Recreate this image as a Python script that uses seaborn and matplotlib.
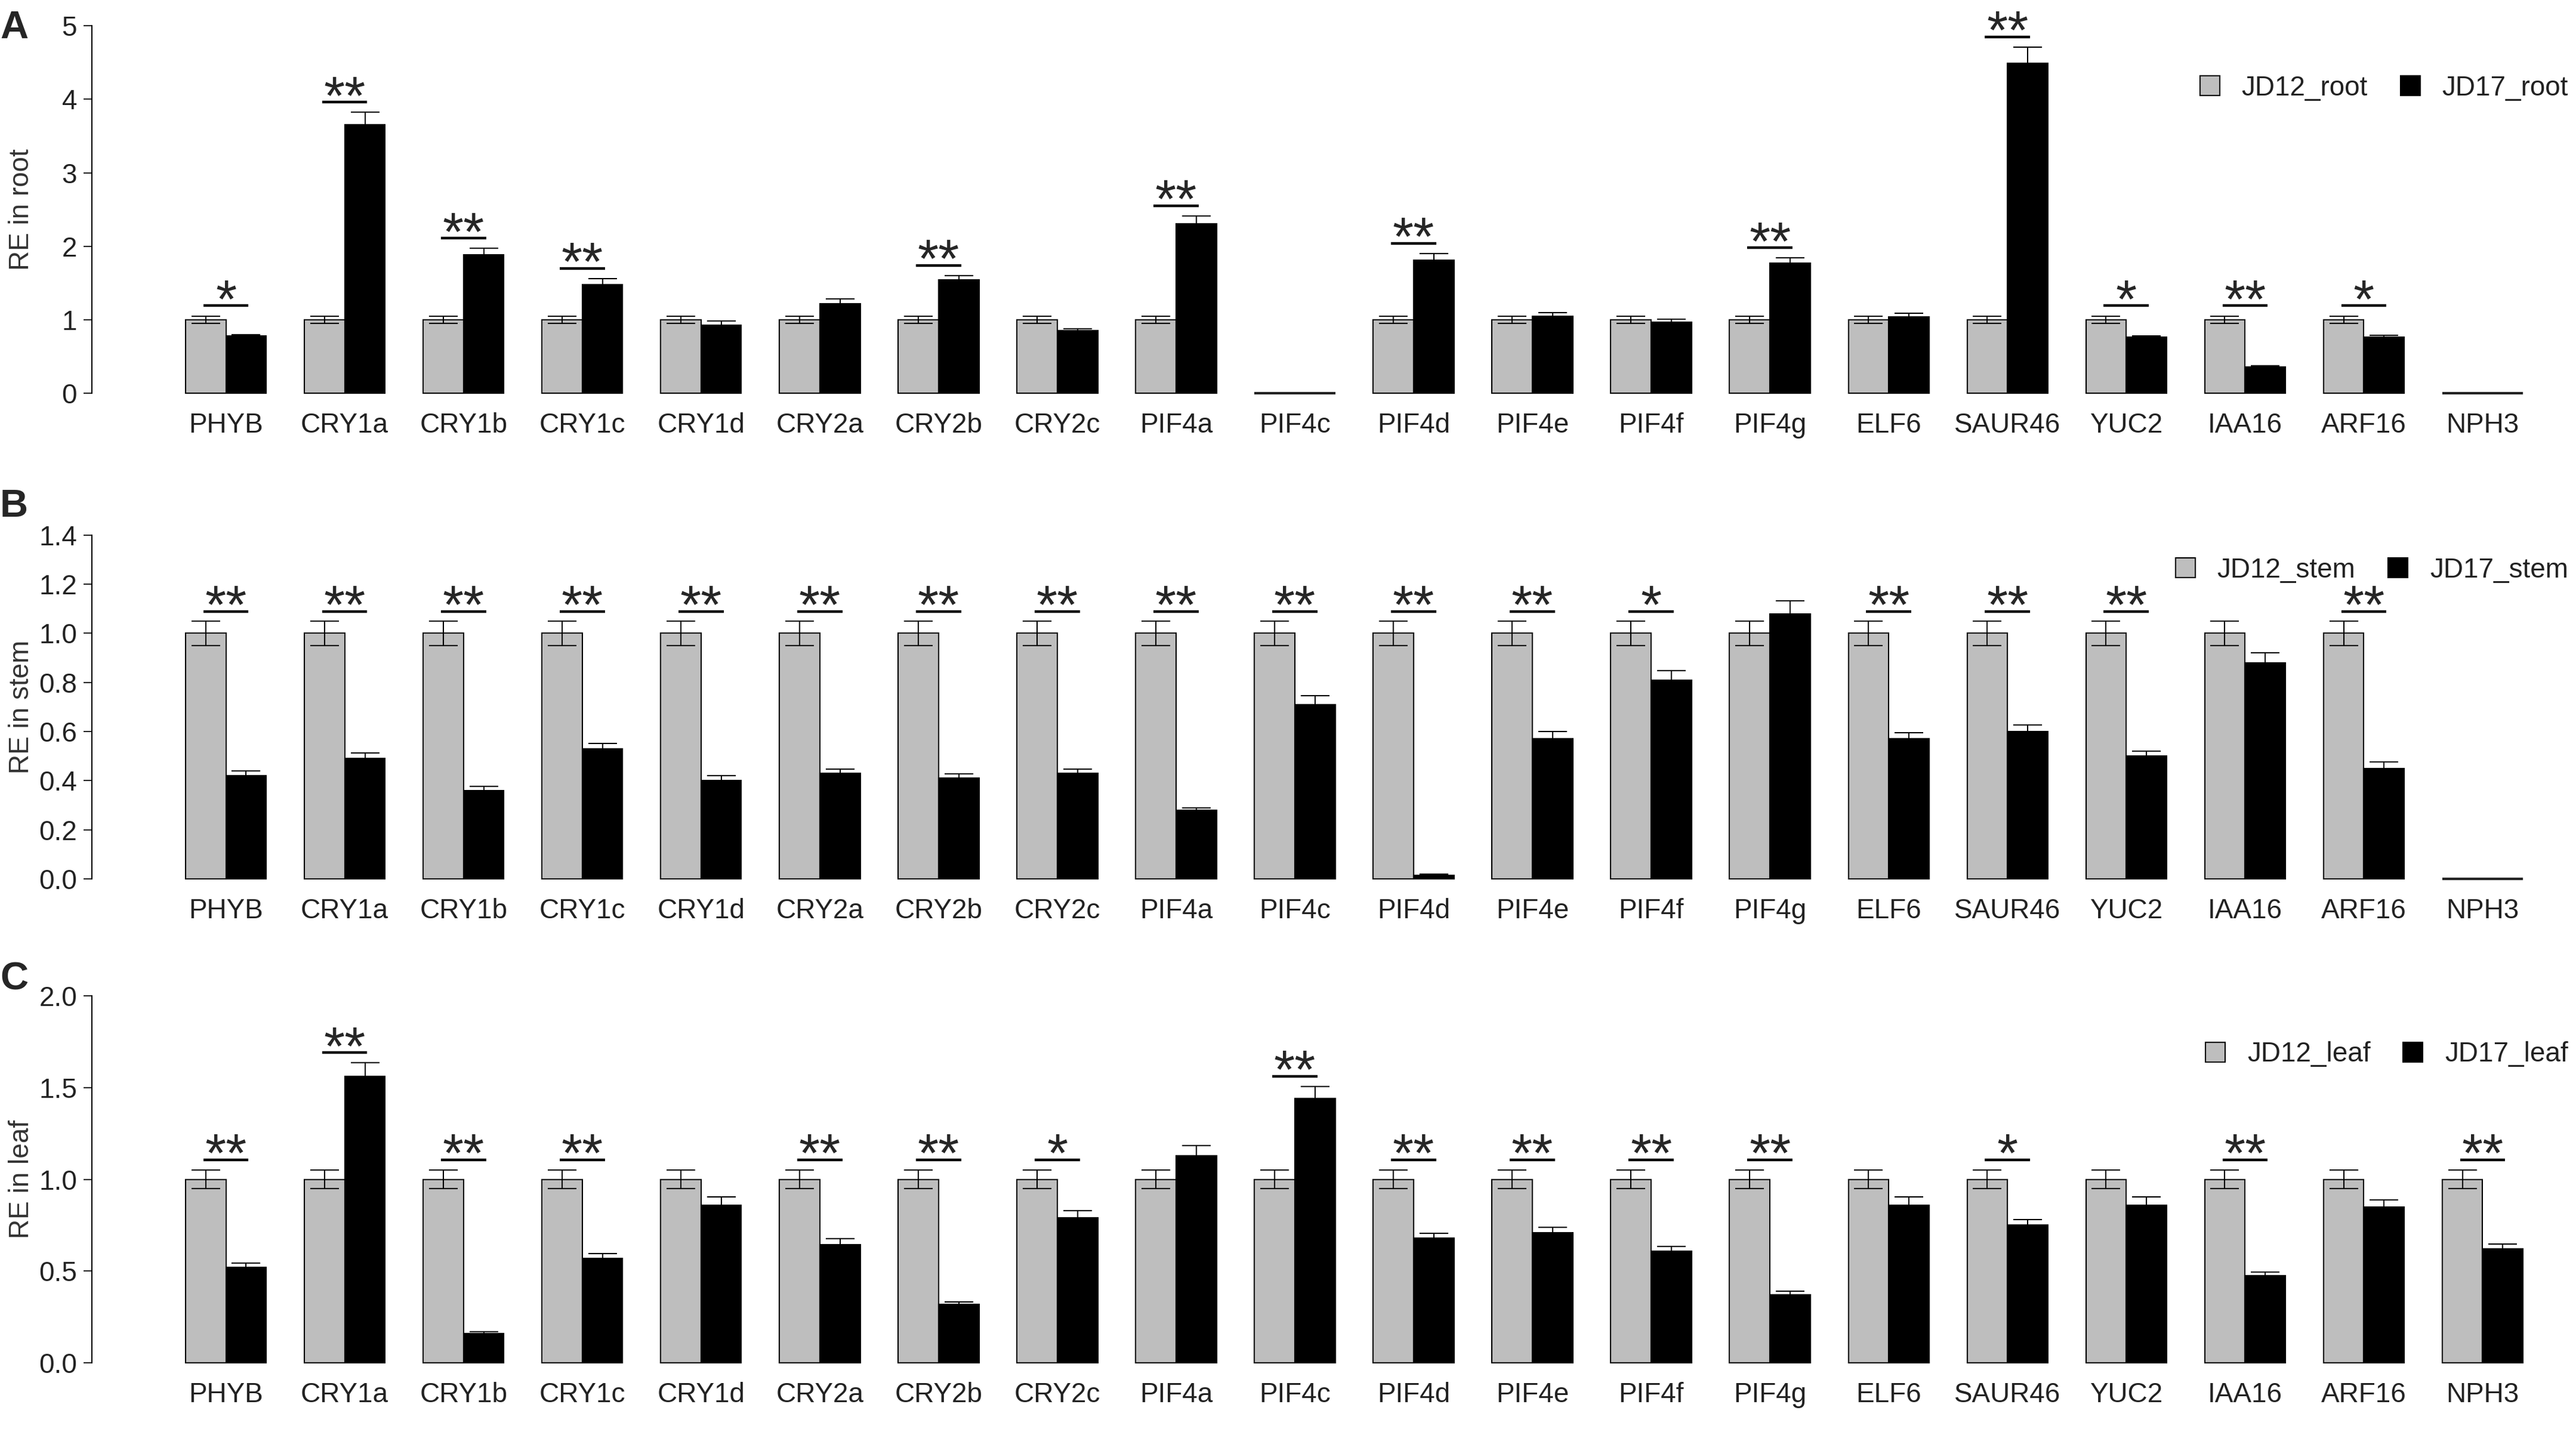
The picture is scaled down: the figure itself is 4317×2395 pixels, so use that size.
import matplotlib
matplotlib.use('Agg')
import matplotlib.pyplot as plt
from matplotlib.patches import Patch
import seaborn as sns
import pandas as pd

genes = ['PHYB', 'CRY1a', 'CRY1b', 'CRY1c', 'CRY1d', 'CRY2a', 'CRY2b', 'CRY2c',
         'PIF4a', 'PIF4c', 'PIF4d', 'PIF4e', 'PIF4f', 'PIF4g', 'ELF6', 'SAUR46',
         'YUC2', 'IAA16', 'ARF16', 'NPH3']

# A - root
root_jd12 = [1, 1, 1, 1, 1, 1, 1, 1, 1, 0, 1, 1, 1, 1, 1, 1, 1, 1, 1, 0]
root_jd12_err = [0.05, 0.05, 0.05, 0.05, 0.05, 0.05, 0.05, 0.05, 0.05, 0, 0.05, 0.05, 0.05, 0.05,
                 0.05, 0.05, 0.05, 0.05, 0.05, 0]
root_jd17 = [0.78, 3.65, 1.88, 1.48, 0.93, 1.22, 1.54, 0.85, 2.31, 0, 1.81, 1.05, 0.97, 1.77,
             1.04, 4.49, 0.76, 0.36, 0.76, 0]
root_jd17_err = [0.02, 0.17, 0.09, 0.08, 0.05, 0.06, 0.06, 0.03, 0.10, 0, 0.09, 0.05, 0.04, 0.07,
                 0.05, 0.22, 0.02, 0.015, 0.03, 0]
root_sig = ['*', '**', '**', '**', '', '', '**', '', '**', '', '**', '', '', '**', '', '**',
            '*', '**', '*', '']

# B - stem
stem_jd12 = [1, 1, 1, 1, 1, 1, 1, 1, 1, 1, 1, 1, 1, 1, 1, 1, 1, 1, 1, 0]
stem_jd12_err = [0.05, 0.05, 0.05, 0.05, 0.05, 0.05, 0.05, 0.05, 0.05, 0.05, 0.05, 0.05, 0.05,
                 0.05, 0.05, 0.05, 0.05, 0.05, 0.05, 0]
stem_jd17 = [0.42, 0.49, 0.36, 0.53, 0.40, 0.43, 0.41, 0.43, 0.28, 0.71, 0.015, 0.57, 0.81, 1.08,
             0.57, 0.60, 0.50, 0.88, 0.45, 0]
stem_jd17_err = [0.02, 0.022, 0.016, 0.022, 0.021, 0.018, 0.018, 0.016, 0.01, 0.035, 0.005, 0.031,
                 0.039, 0.052, 0.025, 0.027, 0.02, 0.042, 0.025, 0]
stem_sig = ['**', '**', '**', '**', '**', '**', '**', '**', '**', '**', '**', '**', '*', '',
            '**', '**', '**', '', '**', '']

# C - leaf
leaf_jd12 = [1] * 20
leaf_jd12_err = [0.05] * 20
leaf_jd17 = [0.52, 1.56, 0.16, 0.57, 0.86, 0.645, 0.32, 0.79, 1.13, 1.44, 0.68, 0.71, 0.61, 0.37,
             0.86, 0.75, 0.86, 0.475, 0.85, 0.62]
leaf_jd17_err = [0.022, 0.075, 0.008, 0.025, 0.043, 0.033, 0.013, 0.038, 0.054, 0.066, 0.025, 0.03,
                 0.026, 0.019, 0.045, 0.03, 0.045, 0.02, 0.039, 0.028]
leaf_sig = ['**', '**', '**', '**', '', '**', '**', '*', '', '**', '**', '**', '**', '**', '',
            '*', '', '**', '', '**']

GRAY = '#BEBEBE'
BLACK = '#000000'

sns.set_theme(style='white')
plt.rcParams['font.family'] = ['Liberation Sans', 'DejaVu Sans']


def draw_panel(ax, tissue, jd12, err12, jd17, err17, sig, ymax, yticks, ytick_fmt, leg_y):
    lab12, lab17 = f'JD12_{tissue}', f'JD17_{tissue}'
    df = pd.DataFrame({
        'gene': genes * 2,
        'line': [lab12] * len(genes) + [lab17] * len(genes),
        'RE': jd12 + jd17,
    })
    sns.barplot(data=df, x='gene', y='RE', hue='line', palette=[GRAY, BLACK],
                width=0.68, edgecolor='black', linewidth=1.5, errorbar=None,
                saturation=1, legend=False, ax=ax)

    # error bars on top of every bar
    tops = None
    for cont, errs in zip(ax.containers, [err12, err17]):
        xs = [p.get_x() + p.get_width() / 2 for p in cont]
        hs = [p.get_height() for p in cont]
        for p in cont:
            p.set_clip_on(False)
            if p.get_height() == 0:
                p.set_linewidth(3)
                p.set_edgecolor('#222222')
        keep = [i for i, e in enumerate(errs) if e > 0]
        ax.errorbar([xs[i] for i in keep], [hs[i] for i in keep],
                    yerr=[errs[i] for i in keep], fmt='none', ecolor='black',
                    elinewidth=1.5, capsize=17, capthick=1.5, zorder=3)
        hi = [h + e for h, e in zip(hs, errs)]
        tops = hi if tops is None else [max(a, b) for a, b in zip(tops, hi)]

    # significance marks
    off = 0.028 * ymax
    for i, s in enumerate(sig):
        if not s:
            continue
        y = tops[i] + off
        ax.plot([i - 0.19, i + 0.19], [y, y], color='black', lw=3.2,
                solid_capstyle='butt', clip_on=False)
        ax.annotate(s, xy=(i, y), xytext=(0, -14), textcoords='offset points',
                    ha='center', va='baseline', fontsize=65, clip_on=False,
                    annotation_clip=False)

    ax.set_xlim(-1.128, 19.70)
    ax.set_ylim(0, ymax)
    ax.set_yticks(yticks)
    ax.set_yticklabels([ytick_fmt.format(t) for t in yticks])
    ax.set_xlabel('')
    ax.set_ylabel(f'RE in {tissue}', fontsize=33, color='#333333')
    ax.yaxis.set_label_coords(-0.0232, 0.5)
    for side in ['top', 'right', 'bottom']:
        ax.spines[side].set_visible(False)
    ax.spines['left'].set_color('black')
    ax.spines['left'].set_linewidth(1.5)
    ax.tick_params(axis='x', length=0, pad=23, labelsize=33, labelcolor='#222222')
    ax.tick_params(axis='y', left=True, length=10, width=1.5, pad=8,
                   labelsize=33, labelcolor='#222222')

    handles = [Patch(facecolor=GRAY, edgecolor='black', linewidth=1.5),
               Patch(facecolor=BLACK, edgecolor='black', linewidth=1.5)]
    ax.legend(handles, [lab12, lab17], loc='center right', bbox_to_anchor=(1.001, leg_y),
              ncol=2, frameon=False, fontsize=33, handlelength=0.72, handleheight=0.72,
              handletextpad=0.8, columnspacing=1.2, borderaxespad=0, borderpad=0,
              labelcolor='#222222')


fig = plt.figure(figsize=(43.17, 23.95), dpi=100)
ax_a = fig.add_axes([0.0357, 0.7248, 0.9603, 0.2572])
ax_b = fig.add_axes([0.0357, 0.3850, 0.9603, 0.2405])
ax_c = fig.add_axes([0.0357, 0.0463, 0.9603, 0.2568])

draw_panel(ax_a, 'root', root_jd12, root_jd12_err, root_jd17, root_jd17_err, root_sig,
           5, [0, 1, 2, 3, 4, 5], '{:g}', 0.83)
draw_panel(ax_b, 'stem', stem_jd12, stem_jd12_err, stem_jd17, stem_jd17_err, stem_sig,
           1.4, [0, 0.2, 0.4, 0.6, 0.8, 1.0, 1.2, 1.4], '{:.1f}', 0.898)
draw_panel(ax_c, 'leaf', leaf_jd12, leaf_jd12_err, leaf_jd17, leaf_jd17_err, leaf_sig,
           2.0, [0, 0.5, 1.0, 1.5, 2.0], '{:.1f}', 0.84)

for letter, ytop in [('A', 0.993), ('B', 0.658), ('C', 0.327)]:
    fig.text(0.0, ytop, letter, fontsize=47, fontweight='bold', ha='left', va='top')

fig.savefig('out.png', dpi=100)
